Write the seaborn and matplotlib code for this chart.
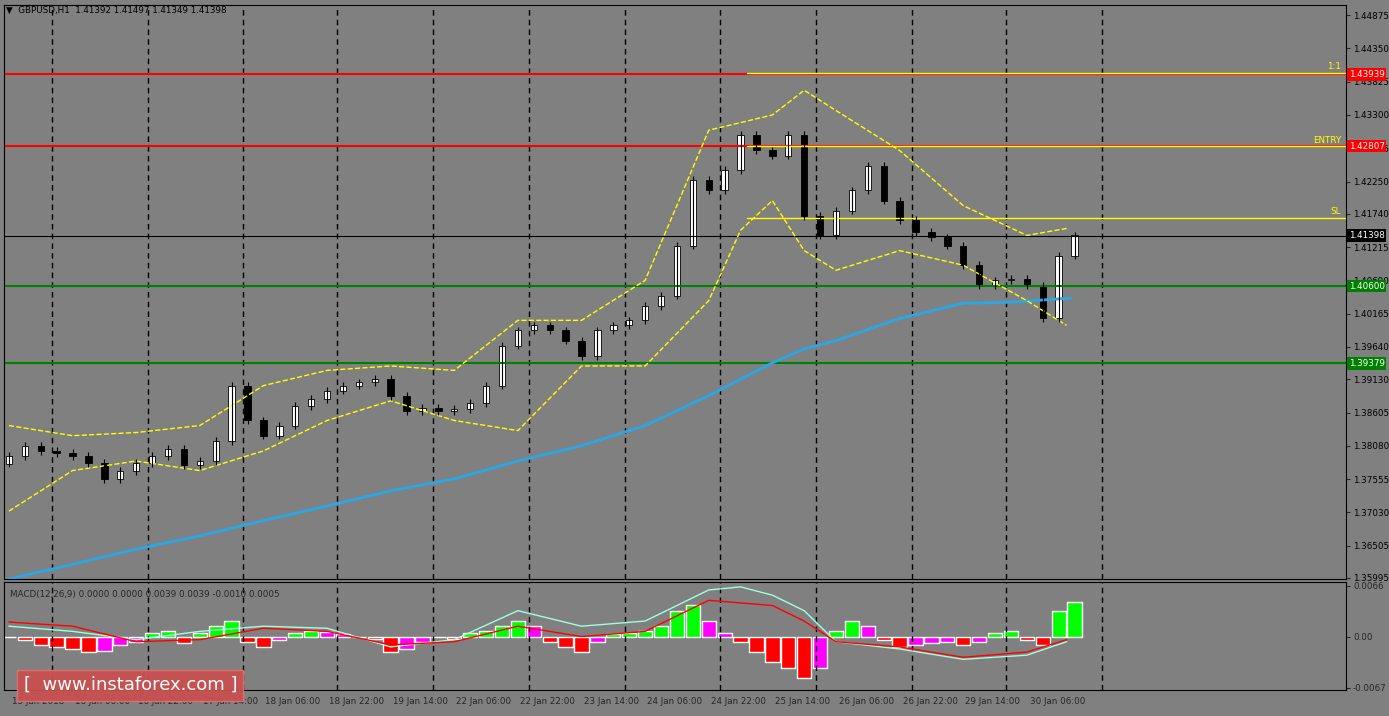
import numpy as np
import pandas as pd
import matplotlib
matplotlib.use("Agg")
import matplotlib.pyplot as plt
import seaborn as sns

sns.set_style("white")
plt.rcParams['font.family'] = ['DejaVu Sans']

closes = [1.3792,1.3808,1.3800,1.3797,1.3792,1.3781,1.3756,1.3768,1.3781,1.3792,1.3803,1.3777,1.3784,1.3816,1.3903,1.3848,
          1.3824,1.3840,1.3871,1.3882,1.3895,1.3903,1.3908,1.3914,1.3887,1.3863,1.3868,1.3863,1.3866,1.3876,1.3903,1.3966,
          1.3990,1.3998,1.3990,1.3974,1.3950,1.3990,1.3998,1.4006,1.4029,1.4045,1.4124,1.4227,1.4211,1.4243,1.4298,1.4274,
          1.4266,1.4298,1.4171,1.4140,1.4179,1.4211,1.4250,1.4195,1.4164,1.4145,1.4137,1.4124,1.4093,1.4061,1.4069,1.4072,
          1.4061,1.4009,1.4108,1.4140]
first_open = 1.3780
ma_x = [0,4,8,12,16,20,24,28,32,36,40,44,48,50,52,56,60,62.5,66.75]
ma_y = [1.3598,1.3621,1.3645,1.3666,1.3690,1.3713,1.3737,1.3756,1.3784,1.3808,1.3840,1.3887,1.3939,1.3961,1.3974,1.4009,1.4033,1.4034,1.4041]
up_x = [0,4,8,12,16,20,24,28,32,36,40,44,48,50,52,56,60,64,66.5]
up_y = [1.3840,1.3824,1.3829,1.3840,1.3903,1.3927,1.3934,1.3927,1.4006,1.4006,1.4069,1.4306,1.4330,1.4369,1.4337,1.4274,1.4187,1.4140,1.4151]
lo_x = [0,4,8,12,16,20,24,28,32,36,40,44,46,48,50,52,56,60,64,66.5]
lo_y = [1.3705,1.3769,1.3784,1.3769,1.3800,1.3848,1.3879,1.3848,1.3832,1.3934,1.3934,1.4037,1.4148,1.4195,1.4116,1.4085,1.4116,1.4093,1.4037,1.3998]

hist = [0,-3,-8,-10,-12,-15,-14,-8,-5,3,5,-6,3,10,15,-5,-10,-3,3,5,4,2,0,-2,-15,-12,-5,0,-2,3,5,10,
        15,10,-5,-10,-15,-5,2,3,5,10,25,30,15,3,-5,-15,-25,-30,-40,-30,5,15,10,-3,-10,-8,-6,-5,-8,-5,
        3,5,-3,-8,25,33]
sig_x = [0,4,8,12,16,20,24,28,32,36,40,44,48,50,52,56,60,64,66.5]
sig_y = [14,10,-5,-3,8,5,-8,-5,10,0,5,35,30,15,-5,-10,-20,-15,-3]
main_x = [0,4,8,12,16,20,24,28,32,36,40,44,46,48,50,52,56,60,64,66.5]
main_y = [10,5,-3,5,10,8,-10,-3,25,10,15,45,48,40,25,-5,-12,-22,-18,-5]

tick_labels = ["15 Jan 2018","16 Jan 06:00","16 Jan 22:00","17 Jan 14:00","18 Jan 06:00","18 Jan 22:00",
               "19 Jan 14:00","22 Jan 06:00","22 Jan 22:00","23 Jan 14:00","24 Jan 06:00","24 Jan 22:00",
               "25 Jan 14:00","26 Jan 06:00","26 Jan 22:00","29 Jan 14:00","30 Jan 06:00"]
tick_px = [3,66,130,195,258,322,386,450,514,578,642,706,771,835,899,962,1027]
vline_px = [43,140,235,330,427,523,620,715,812,908,1003,1100]
y_ticks = [1.44875,1.44350,1.43825,1.43300,1.42775,1.42250,1.41740,1.41215,1.40690,1.40165,1.39640,1.39130,
           1.38605,1.38080,1.37555,1.37030,1.36505,1.35995]

PX = 16.0
GRAY = "#808080"
FS = 6.3
fig = plt.figure(figsize=(13.89, 7.16), dpi=100, facecolor=GRAY)
ax = fig.add_axes([0.003, 0.191, 0.966, 0.802], facecolor=GRAY)
ax2 = fig.add_axes([0.003, 0.036, 0.966, 0.151], facecolor=GRAY)
xmax = 1345 / PX
for a in (ax, ax2):
    a.set_xlim(-0.3, xmax)
    for s in a.spines.values():
        s.set_color("black")
    for v in vline_px:
        a.axvline(v / PX, color="black", ls=(0, (4, 3)), lw=1)

ax.set_ylim(1.35995 - 0.0002, 1.44875 + 0.0016)
ax.yaxis.tick_right()
ax.set_yticks(y_ticks)
ax.set_yticklabels([f"{t:.5f}" for t in y_ticks], fontsize=FS, color="black")
ax.set_xticks([])
ax.tick_params(axis="y", length=3, pad=2)

ax.axhline(1.43939, color="red", lw=1.5)
ax.axhline(1.42807, color="red", lw=1.5)
ax.axhline(1.40600, color="green", lw=1.5)
ax.axhline(1.39379, color="green", lw=1.5)
ax.axhline(1.41398, color="black", lw=0.8)
for yv, lab in [(1.43970, "1:1"), (1.42807, "ENTRY"), (1.41680, "SL")]:
    ax.plot([742 / PX, xmax], [yv, yv], color="yellow", lw=1)
    ax.text(xmax - 0.3, yv + 0.0002, lab, color="yellow", fontsize=FS, ha="right", va="bottom")

sns.lineplot(x=ma_x, y=ma_y, ax=ax, color="#29a8e8", lw=2)
sns.lineplot(x=up_x, y=up_y, ax=ax, color="yellow", lw=1, linestyle="--")
sns.lineplot(x=lo_x, y=lo_y, ax=ax, color="yellow", lw=1, linestyle="--")

opens = [first_open] + closes[:-1]
for i, (o, c) in enumerate(zip(opens, closes)):
    lo_, hi_ = min(o, c), max(o, c)
    ax.vlines(i, lo_ - 0.0006, hi_ + 0.0006, color="black", lw=0.8)
    ax.bar(i, max(hi_ - lo_, 0.0001), bottom=lo_, width=0.4,
           color="white" if c >= o else "black", edgecolor="black", lw=0.6)

for yv, bg in [(1.43939, "red"), (1.42807, "red"), (1.41398, "black"),
               (1.40600, "green"), (1.39379, "green")]:
    ax.text(1.002, yv, f"{yv:.5f}", transform=ax.get_yaxis_transform(), fontsize=FS,
            color="white", va="center", ha="left",
            bbox=dict(boxstyle="square,pad=0.2", fc=bg, ec="none"))

fig.text(0.004, 0.985, "▼  GBPUSD,H1  1.41392 1.41497 1.41349 1.41398", fontsize=FS, color="black", va="center")

hv = np.array(hist) * 0.000135
cols = []
for i, h in enumerate(hv):
    prev = hv[i - 1] if i > 0 else 0
    if h >= 0:
        cols.append("#00ff00" if h >= prev else "magenta")
    else:
        cols.append("red" if h <= prev else "magenta")
ax2.bar(np.arange(len(hv)), hv, width=0.9, color=cols)
sns.lineplot(x=main_x, y=np.array(main_y) * 0.000135, ax=ax2, color="#a0ffe0", lw=1)
sns.lineplot(x=sig_x, y=np.array(sig_y) * 0.000135, ax=ax2, color="red", lw=1)
ax2.set_ylim(-0.0067 - 0.0003, 0.0066 + 0.0005)
ax2.yaxis.tick_right()
ax2.set_yticks([0.0066, 0.0, -0.0067])
ax2.set_yticklabels(["0.0066", "0.00", "-0.0067"], fontsize=FS)
ax2.tick_params(axis="y", length=3, pad=2)
ax2.set_xticks([p / PX for p in tick_px])
ax2.set_xticklabels(tick_labels, fontsize=FS, ha="left")
ax2.tick_params(axis="x", length=3, pad=2)
ax2.text(0.004, 0.93, "MACD(12,26,9) 0.0000 0.0000 0.0039 0.0039 -0.0010 0.0005",
         transform=ax2.transAxes, fontsize=FS, va="top")

fig.text(0.017, 0.043, "[  www.instaforex.com ]", fontsize=13, color="white", va="center",
         bbox=dict(boxstyle="square,pad=0.35", fc="#c85050", ec="#e07070", alpha=0.95))

fig.savefig("out.png", dpi=100, facecolor=GRAY)
